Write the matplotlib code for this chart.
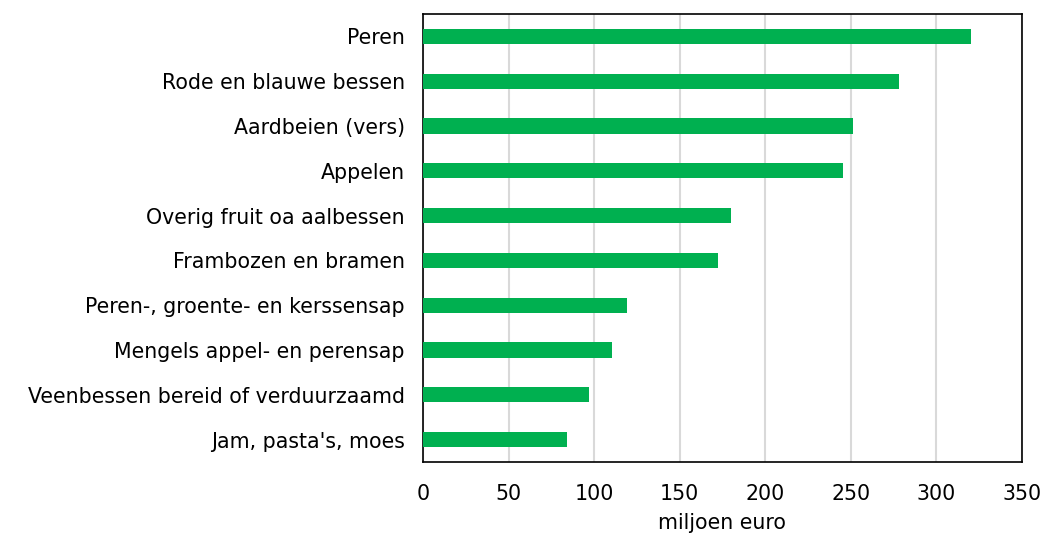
import matplotlib.pyplot as plt

categories = ['Peren', 'Rode en blauwe bessen', 'Aardbeien (vers)', 'Appelen',
              'Overig fruit oa aalbessen', 'Frambozen en bramen',
              'Peren-, groente- en kerssensap', 'Mengels appel- en perensap',
              'Veenbessen bereid of verduurzaamd', "Jam, pasta's, moes"]
values = [320.4, 278.3, 251.5, 245.7, 180.1, 172.2, 119.1, 110.5, 97.2, 84.4]
xticks = [0, 50, 100, 150, 200, 250, 300, 350]

plt.rcParams['font.family'] = ['DejaVu Sans']

fig = plt.figure(figsize=(10.45, 5.35), dpi=100)
ax = fig.add_axes([423 / 1045, 1 - 462 / 535, (1022 - 423) / 1045, (462 - 14) / 535])

pos = list(range(len(categories)))[::-1]
ax.barh(pos, values, height=0.34, color='#00B050', zorder=3)

ax.set_xlim(0, 350)
ax.set_ylim(-0.5, len(categories) - 0.5)
ax.set_xticks(xticks)
ax.set_yticks(pos)
ax.set_yticklabels(categories)
ax.tick_params(axis='both', length=0, labelsize=14.8)
ax.tick_params(axis='x', pad=16)
ax.tick_params(axis='y', pad=13)
ax.grid(axis='x', color='#d9d9d9', linewidth=1.5, zorder=0)
for s in ax.spines.values():
    s.set_color('black')
    s.set_linewidth(1.2)
ax.set_xlabel('miljoen euro', fontsize=14.8, labelpad=6)

fig.savefig('out.png', dpi=100)
